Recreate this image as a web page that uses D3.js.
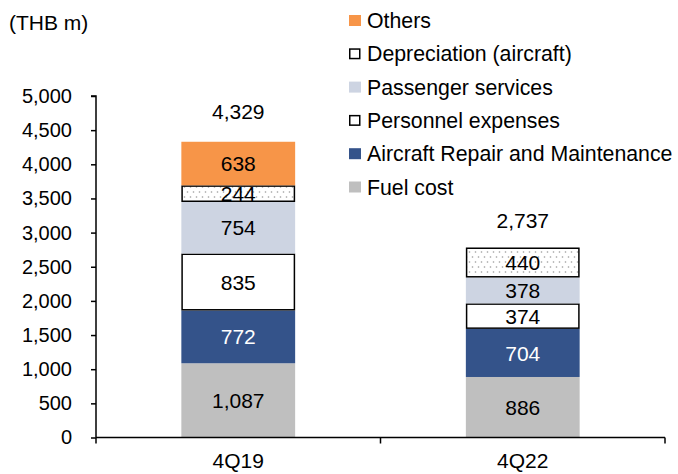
<!DOCTYPE html>
<html>
<head>
<meta charset="utf-8">
<script src="https://cdn.jsdelivr.net/npm/d3@7"></script>
<style>
  body { margin: 0; background: #fff; }
  text { font-family: "Liberation Sans", Arial, sans-serif; }
</style>
</head>
<body>
<div id="chart"></div>
<script>
const width = 678;
const height = 474;

// data
const quarters = ["4Q19", "4Q22"];
const seriesNames = ["Fuel cost", "Aircraft Repair and Maintenance", "Personnel expenses",
    "Passenger services", "Depreciation (aircraft)", "Others"];
const fuelCost = [1087, 886];
const repairMaint = [772, 704];
const personnel = [835, 374];
const passenger = [754, 378];
const depreciation = [244, 440];
const others = [638, -45];
const totals = [4329, 2737];
const yTicks = [0, 500, 1000, 1500, 2000, 2500, 3000, 3500, 4000, 4500, 5000];

const seriesValues = [fuelCost, repairMaint, personnel, passenger, depreciation, others];
const fills = ["#bfbfbf", "#34538a", "#ffffff", "#cdd4e2", "url(#dots)", "#f79548"];
const strokes = [null, null, "#000", null, "#000", null];
const labelColors = ["#000", "#fff", "#000", "#000", "#000", "#000"];
const labelSize = 21;

const rows = quarters.map((q, i) => {
    const r = { quarter: q };
    seriesNames.forEach((s, j) => r[s] = seriesValues[j][i]);
    return r;
});

const margin = { left: 96, right: 13, top: 96, bottom: 36.5 };

const x = d3.scaleBand()
    .domain(quarters)
    .range([margin.left, width - margin.right])
    .paddingInner(0.6)
    .paddingOuter(0.3);

const y = d3.scaleLinear()
    .domain([0, 5000])
    .range([height - margin.bottom, margin.top]);

const stack = d3.stack()
    .keys(seriesNames)
    .offset(d3.stackOffsetDiverging);
const layers = stack(rows);

const svg = d3.select("#chart")
    .append("svg")
        .attr("width", width)
        .attr("height", height);

const defs = svg.append("defs");
const pat = defs.append("pattern")
    .attr("id", "dots")
    .attr("patternUnits", "userSpaceOnUse")
    .attr("width", 6)
    .attr("height", 10);
pat.append("rect").attr("width", 6).attr("height", 10).attr("fill", "#fff");
pat.append("circle").attr("cx", 1.5).attr("cy", 2).attr("r", 0.8).attr("fill", "#9a9a9a");
pat.append("circle").attr("cx", 4.5).attr("cy", 7).attr("r", 0.8).attr("fill", "#9a9a9a");

defs.append("clipPath")
    .attr("id", "plotClip")
    .append("rect")
        .attr("x", margin.left)
        .attr("y", 0)
        .attr("width", width - margin.left - margin.right)
        .attr("height", y(0) + 0.5);

const plot = svg.append("g").attr("clip-path", "url(#plotClip)");

layers.forEach((layer, j) => {
    const inset = strokes[j] ? 0.75 : 0;
    plot.append("g")
        .selectAll("rect")
        .data(layer)
        .enter().append("rect")
            .attr("x", d => x(d.data.quarter) + inset)
            .attr("width", x.bandwidth() - 2 * inset)
            .attr("y", d => y(Math.max(d[0], d[1])) + inset)
            .attr("height", d => Math.abs(y(d[0]) - y(d[1])) - 2 * inset)
            .attr("fill", fills[j])
            .attr("stroke", strokes[j] || "none")
            .attr("stroke-width", 1.5);
});

// segment labels (positive segments only)
layers.forEach((layer, j) => {
    svg.append("g")
        .selectAll("text")
        .data(layer.filter(d => d.data[layer.key] > 0))
        .enter().append("text")
            .attr("x", d => x(d.data.quarter) + x.bandwidth() / 2)
            .attr("y", d => y((d[0] + d[1]) / 2))
            .attr("dy", "0.36em")
            .attr("text-anchor", "middle")
            .attr("font-size", labelSize)
            .attr("fill", labelColors[j])
            .text(d => d3.format(",")(d.data[layer.key]));
});

// totals
svg.append("g")
    .selectAll("text")
    .data(quarters)
    .enter().append("text")
        .attr("x", q => x(q) + x.bandwidth() / 2)
        .attr("y", (q, i) => y(totals[i]) - 30)
        .attr("dy", "0.36em")
        .attr("text-anchor", "middle")
        .attr("font-size", labelSize)
        .text((q, i) => d3.format(",")(totals[i]));

// y axis
const yAxis = svg.append("g")
    .attr("transform", `translate(${margin.left},0)`)
    .call(d3.axisLeft(y).tickValues(yTicks).tickFormat(d3.format(",")).tickSize(5).tickPadding(19));
yAxis.select(".domain").attr("d", `M-5,${y(5000)}H0V${y(0)}`).attr("stroke-width", 1.5);
yAxis.selectAll(".tick line").attr("stroke-width", 1.5);
yAxis.selectAll(".tick text").attr("font-size", 20).attr("fill", "#000");

// x axis
const xAxis = svg.append("g")
    .attr("transform", `translate(0,${y(0)})`)
    .call(d3.axisBottom(x).tickSize(0).tickPadding(16));
xAxis.select(".domain").attr("d", `M${margin.left},0H${width - margin.right}`).attr("stroke-width", 1.5);
xAxis.selectAll(".tick text").attr("font-size", labelSize).attr("fill", "#000");
xAxis.selectAll(".sep")
    .data([x.range()[0], (x(quarters[0]) + x.bandwidth() + x(quarters[1])) / 2, x.range()[1]])
    .enter().append("line")
        .attr("class", "sep")
        .attr("x1", d => d).attr("x2", d => d)
        .attr("y1", 0).attr("y2", 6)
        .attr("stroke", "#000")
        .attr("stroke-width", 1.5);

// unit label
svg.append("text")
    .attr("x", 9)
    .attr("y", 22)
    .attr("dy", "0.36em")
    .attr("font-size", labelSize)
    .text("(THB m)");

// legend
const legendNames = seriesNames.slice().reverse();
const idx = d => seriesNames.indexOf(d);
const legend = svg.append("g")
    .selectAll("g")
    .data(legendNames)
    .enter().append("g")
        .attr("transform", (d, i) => `translate(349,${20.5 + i * 33.3})`);
legend.append("rect")
    .attr("x", d => strokes[idx(d)] ? 0.75 : 0)
    .attr("y", d => strokes[idx(d)] ? -4.75 : -5.5)
    .attr("width", d => strokes[idx(d)] ? 10 : 12)
    .attr("height", d => strokes[idx(d)] ? 9.5 : 11)
    .attr("fill", d => strokes[idx(d)] ? "#fff" : fills[idx(d)])
    .attr("stroke", d => strokes[idx(d)] || "none")
    .attr("stroke-width", 1.5);
legend.append("text")
    .attr("x", 18)
    .attr("y", 0)
    .attr("dy", "0.36em")
    .attr("font-size", 21.3)
    .text(d => d);
</script>
</body>
</html>
